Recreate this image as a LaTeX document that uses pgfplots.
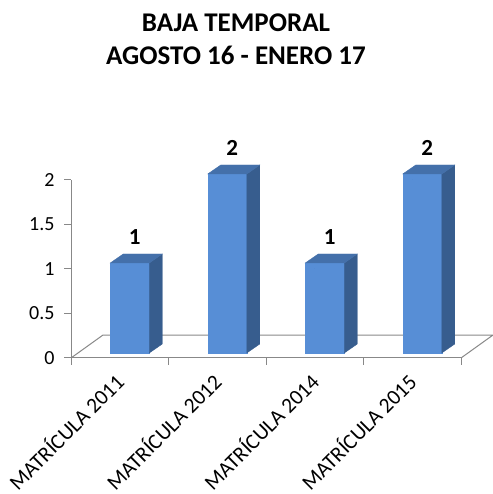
\documentclass[border=0pt]{standalone}
\usepackage{fontspec}
\setmainfont{Carlito}
\usepackage{pgfplots}
\usepackage{pgfplotstable}
\pgfplotsset{compat=1.18}
\definecolor{barfront}{HTML}{578ED6}
\definecolor{barside}{HTML}{375D8E}
\definecolor{bartop}{HTML}{4470AA}
\definecolor{axisgray}{HTML}{888888}
\pgfplotstableread{
x v
0 1
1 2
2 1
3 2
}\data
\begin{document}
\begin{tikzpicture}[x=1pt,y=1pt]
\useasboundingbox (0,0) rectangle (492,494);
\node[font=\fontsize{27}{33}\selectfont\bfseries, align=center] at (236,455) {BAJA TEMPORAL\\AGOSTO 16 - ENERO 17};
\begin{axis}[
  at={(71pt,136pt)}, anchor=south west,
  scale only axis, width=390pt, height=178pt,
  xmin=-0.5, xmax=3.5, ymin=0, ymax=2,
  enlargelimits=false, clip=false,
  axis x line=bottom, axis y line=left,
  axis line style={-, axisgray, line width=1pt},
  tick style={axisgray, line width=1pt},
  tick align=outside, major tick length=7pt,
  ytick={0,0.5,1,1.5,2},
  xtick={-0.5,0.5,1.5,2.5,3.5},
  x tick label as interval,
  xticklabels={MATRÍCULA 2011,MATRÍCULA 2012,MATRÍCULA 2014,MATRÍCULA 2015},
  /pgf/number format/assume math mode=true,
  yticklabel style={font=\fontsize{20}{24}\selectfont, xshift=-6pt},
  xticklabel style={font=\fontsize{21.5}{25}\selectfont, xshift=2pt, yshift=-10pt, rotate=45, anchor=east},
]
% floor
\addplot[axisgray, line width=1pt, no markers] coordinates {(-0.5,0) (-0.172,0.258) (3.828,0.258) (3.5,0)};
% 3D bars
\addplot[scatter, only marks, mark=*, mark size=0pt, mark options={draw=none,fill=none},
  visualization depends on={rawy \as \val},
  scatter/@pre marker code/.code={%
    \pgfmathsetmacro{\bb}{5-\val*89}%
    \pgfmathsetmacro{\bbb}{\bb+9}%
    \fill[barfront] (-9.5pt,\bb pt) rectangle (29.5pt,6pt);
    \fill[barside] (29.5pt,\bb pt) -- (42.5pt,\bbb pt) -- (42.5pt,15pt) -- (29.5pt,6pt) -- cycle;
    \fill[bartop] (-9.5pt,6pt) -- (29.5pt,6pt) -- (42.5pt,15pt) -- (3.5pt,15pt) -- cycle;
    \node[font=\fontsize{23}{27}\selectfont\bfseries] at (15pt,32pt) {\pgfmathprintnumber{\val}};
  },
  scatter/@post marker code/.code={},
] table[x=x,y=v] {\data};
\end{axis}
\end{tikzpicture}
\end{document}
